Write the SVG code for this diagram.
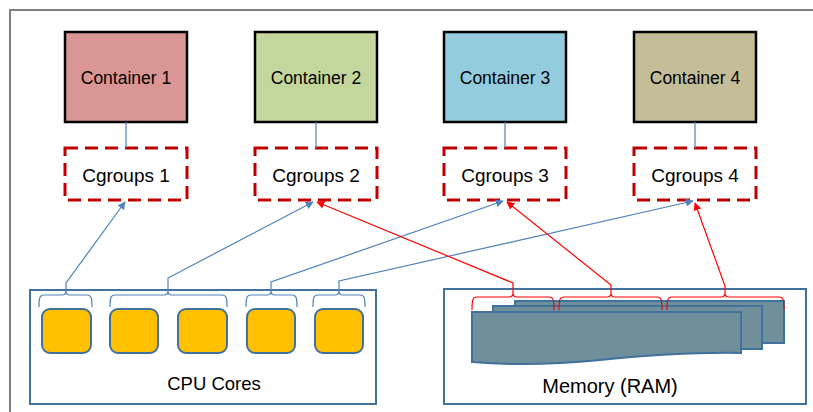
<svg xmlns="http://www.w3.org/2000/svg" width="813" height="412" viewBox="0 0 813 412">
<defs>
<style>
.lbl{font-family:"Liberation Sans",Arial,sans-serif;fill:#000;text-anchor:middle}
.cont{stroke:#000;stroke-width:2.5}
.cg{fill:#fff;stroke:#C00000;stroke-width:3;stroke-dasharray:13 7}
.box{fill:#fff;stroke:#41719C;stroke-width:2}
.core{fill:#FFC000;stroke:#41719C;stroke-width:2}
.mod{fill:#6F8F9B;stroke:#41719C;stroke-width:2}
.bl{fill:none;stroke:#4F81BD;stroke-width:1.2}
.rd{fill:none;stroke:#FF0000;stroke-width:1.2}
</style>
<marker id="ab" viewBox="0 0 10 10" refX="9" refY="5" markerWidth="8" markerHeight="8" markerUnits="userSpaceOnUse" orient="auto"><path d="M0,0 L10,5 L0,10 z" fill="#4F81BD"/></marker>
<marker id="ar" viewBox="0 0 10 10" refX="9" refY="5" markerWidth="8" markerHeight="8" markerUnits="userSpaceOnUse" orient="auto"><path d="M0,0 L10,5 L0,10 z" fill="#FF0000"/></marker>
</defs>
<rect width="813" height="412" fill="#fff"/>
<path d="M10,412 L10,10 L813,10" fill="none" stroke="#7F7F7F" stroke-width="2"/>

<g id="container1"><rect class="cont" x="65" y="32" width="122" height="90" fill="#D99694"/><text class="lbl" x="126" y="84" font-size="17.5">Container 1</text></g>
<g id="container2"><rect class="cont" x="255" y="32" width="122" height="90" fill="#C3D69B"/><text class="lbl" x="316" y="84" font-size="17.5">Container 2</text></g>
<g id="container3"><rect class="cont" x="444" y="32" width="122" height="90" fill="#93CDDD"/><text class="lbl" x="505" y="84" font-size="17.5">Container 3</text></g>
<g id="container4"><rect class="cont" x="634" y="32" width="122" height="90" fill="#C4BD97"/><text class="lbl" x="695" y="84" font-size="17.5">Container 4</text></g>

<g id="cgroups1"><rect class="cg" x="65" y="148" width="122" height="52"/><text class="lbl" x="126" y="182" font-size="19">Cgroups 1</text></g>
<g id="cgroups2"><rect class="cg" x="255" y="148" width="122" height="52"/><text class="lbl" x="316" y="182" font-size="19">Cgroups 2</text></g>
<g id="cgroups3"><rect class="cg" x="444" y="148" width="122" height="52"/><text class="lbl" x="505" y="182" font-size="19">Cgroups 3</text></g>
<g id="cgroups4"><rect class="cg" x="634" y="148" width="122" height="52"/><text class="lbl" x="695" y="182" font-size="19">Cgroups 4</text></g>

<g id="cpu">
<rect class="box" x="30" y="290" width="346" height="114"/>
<rect class="core" x="42" y="309" width="49" height="44" rx="8"/>
<rect class="core" x="110" y="309" width="48" height="44" rx="8"/>
<rect class="core" x="178" y="309" width="49" height="44" rx="8"/>
<rect class="core" x="247" y="309" width="48" height="44" rx="8"/>
<rect class="core" x="315" y="309" width="48" height="44" rx="8"/>
<text class="lbl" x="214" y="390" font-size="18.5">CPU Cores</text>
</g>

<g id="memory">
<rect class="box" x="444" y="289" width="362" height="115"/>
<rect class="mod" x="515" y="301" width="269" height="42"/>
<rect class="mod" x="493" y="306" width="269" height="43"/>
<path class="mod" d="M472,312 L741,312 L741,353 C 690,352 640,356 600,360 C 560,364 520,366 472,362 Z"/>
<text class="lbl" x="610" y="393" font-size="20">Memory (RAM)</text>
</g>

<g id="connectors">
<line class="bl" x1="126" y1="122" x2="126" y2="148"/>
<line class="bl" x1="316" y1="122" x2="316" y2="148"/>
<line class="bl" x1="505" y1="122" x2="505" y2="148"/>
<line class="bl" x1="695" y1="122" x2="695" y2="148"/>

<path class="bl" d="M39,307 C39,297 40,295 44,295 L62,295 C65,295 66,294 66,291 C66,294 67,295 70,295 L87,295 C91,295 92,297 92,307"/>
<path class="bl" d="M110,307 C110,297 111,295 115,295 L164,295 C167,295 168,294 168,291 C168,294 169,295 172,295 L222,295 C226,295 227,297 227,307"/>
<path class="bl" d="M246,307 C246,297 247,295 251,295 L267,295 C270,295 271,294 271,291 C271,294 272,295 275,295 L292,295 C296,295 297,297 297,307"/>
<path class="bl" d="M313,307 C313,297 314,295 318,295 L335,295 C338,295 339,294 339,291 C339,294 340,295 343,295 L360,295 C364,295 365,297 365,307"/>

<path class="rd" d="M472,310 C472,299 473,297 477,297 L509,297 C512,297 513,296 513,293 C513,296 514,297 517,297 L549,297 C553,297 554,299 554,310"/>
<path class="rd" d="M559,310 C559,299 560,297 564,297 L607,297 C610,297 611,296 611,293 C611,296 612,297 615,297 L657,297 C661,297 662,299 662,310"/>
<path class="rd" d="M667,310 C667,299 668,297 672,297 L721,297 C724,297 725,296 725,293 C725,296 726,297 729,297 L779,297 C783,297 784,299 784,310"/>

<polyline class="bl" points="66,291 66,283 125,202" marker-end="url(#ab)"/>
<polyline class="bl" points="168,291 168,278 313,202" marker-end="url(#ab)"/>
<polyline class="bl" points="271,291 271,282 503,201" marker-end="url(#ab)"/>
<polyline class="bl" points="339,291 339,281 693,201" marker-end="url(#ab)"/>

<polyline class="rd" points="513,293 513,283 317,202" marker-end="url(#ar)"/>
<polyline class="rd" points="611,293 611,285 507,202" marker-end="url(#ar)"/>
<polyline class="rd" points="725,293 725,286 695,203" marker-end="url(#ar)"/>
</g>
</svg>
